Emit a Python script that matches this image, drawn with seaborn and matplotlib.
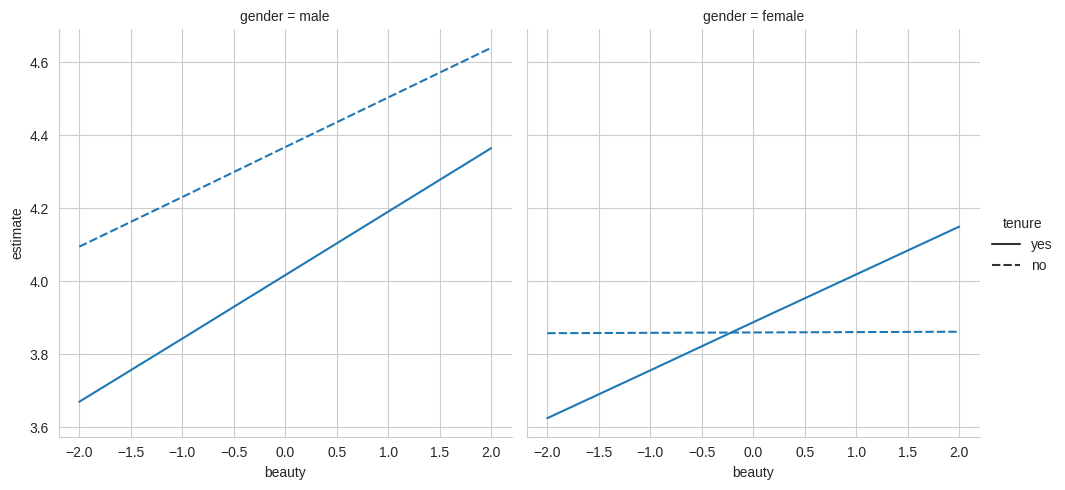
import seaborn as sns
import pandas as pd
import matplotlib
matplotlib.use("Agg")
import matplotlib.pyplot as plt

beauty = [-2.0, -1.0, 0.0, 1.0, 2.0]
male_yes = [3.670, 3.843, 4.017, 4.191, 4.365]
male_no = [4.095, 4.231, 4.368, 4.504, 4.640]
female_yes = [3.625, 3.756, 3.888, 4.019, 4.150]
female_no = [3.858, 3.859, 3.860, 3.861, 3.862]

rows = []
for g, t, vals in [("male", "yes", male_yes), ("male", "no", male_no),
                   ("female", "yes", female_yes), ("female", "no", female_no)]:
    for b, v in zip(beauty, vals):
        rows.append({"beauty": b, "estimate": v, "gender": g, "tenure": t})
df = pd.DataFrame(rows)

sns.set_style("whitegrid")
plt.rcParams["font.family"] = ["Liberation Sans", "DejaVu Sans"]
g = sns.relplot(data=df, x="beauty", y="estimate", col="gender", style="tenure",
                kind="line", col_order=["male", "female"], style_order=["yes", "no"])
g.savefig("out.png", dpi=100)
